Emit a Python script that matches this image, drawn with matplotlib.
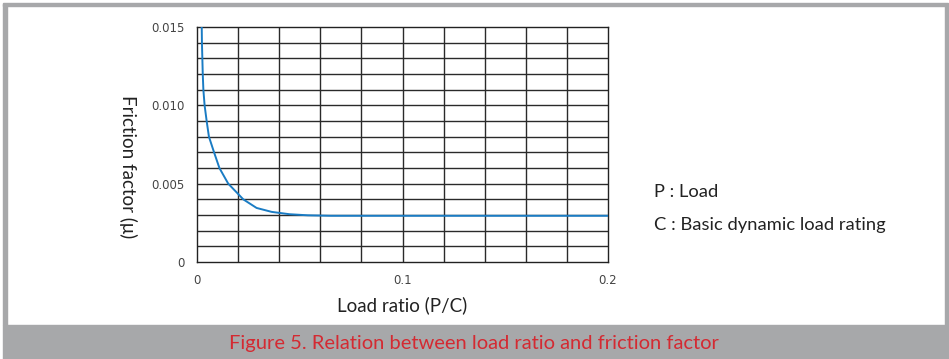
import matplotlib
matplotlib.use('Agg')
from matplotlib import pyplot as plt
from matplotlib.patches import Rectangle
import numpy as np

# curve: load ratio (P/C) vs friction factor
load_ratio = [0.0023, 0.0024, 0.0026, 0.0028, 0.0031, 0.0037, 0.0047, 0.0058,
              0.0083, 0.0109, 0.0152, 0.0196, 0.0225, 0.029, 0.0363, 0.045,
              0.054, 0.065, 0.100, 0.150, 0.200]
friction = [0.0150, 0.0140, 0.0130, 0.0120, 0.0110, 0.0100, 0.0090, 0.0080,
            0.0070, 0.0060, 0.0050, 0.0044, 0.0040, 0.00345, 0.0032, 0.00305,
            0.00298, 0.00295, 0.00295, 0.00295, 0.00295]

x_ticks = [0, 0.1, 0.2]
x_ticklabels = ['0', '0.1', '0.2']
y_ticks = [0, 0.005, 0.010, 0.015]
y_ticklabels = ['0', '0.005', '0.010', '0.015']

W, H = 949, 359
fig = plt.figure(figsize=(W / 100, H / 100), dpi=100)
fig.patch.set_facecolor('white')

frame_col = '#a7a8aa'


def px_rect(x0, y0, x1, y1, color):
    # rectangle in pixel coords (origin top-left)
    fig.patches.append(Rectangle((x0 / W, 1 - y1 / H), (x1 - x0) / W, (y1 - y0) / H,
                                 transform=fig.transFigure, color=color, zorder=0))


px_rect(3, 3.5, 948, 6, frame_col)      # top line
px_rect(3, 3.5, 6.5, 325, frame_col)    # left line
px_rect(945, 3.5, 948, 325, frame_col)  # right line
px_rect(3, 325, 949, 359, frame_col)    # caption band

ax = fig.add_axes([197 / W, 1 - 262 / H, (608 - 197) / W, (262 - 27) / H])

# grid: every 0.02 across, every 0.001 up
for gx in np.arange(0.02, 0.19, 0.02):
    ax.axvline(gx, color='#2a2a2a', lw=1.0, zorder=1)
for gy in np.arange(0.001, 0.0145, 0.001):
    ax.axhline(gy, color='#2a2a2a', lw=1.0, zorder=1)

ax.plot(load_ratio, friction, color='#1a7cc4', lw=1.4, zorder=3,
        solid_joinstyle='round')

ax.set_xlim(0, 0.2)
ax.set_ylim(0, 0.015)
ax.set_xticks(x_ticks)
ax.set_xticklabels(x_ticklabels)
ax.set_yticks(y_ticks)
ax.set_yticklabels(y_ticklabels)
ax.tick_params(which='both', length=0)
ax.tick_params(axis='x', pad=9, labelsize=8.5, labelcolor='#444444')
ax.tick_params(axis='y', pad=9, labelsize=8.5, labelcolor='#444444')
for s in ax.spines.values():
    s.set_color('#222222')
    s.set_linewidth(1.0)

txt_font = 'Lato'
ax.set_xlabel('Load ratio (P/C)', fontsize=13.5, family=txt_font, color='#222222', labelpad=6)
fig.text(128 / W, 1 - 167 / H, 'Friction factor (μ)', rotation=270, fontsize=13.5,
         family=txt_font, color='#222222', ha='center', va='center')

fig.text(654 / W, 1 - 192 / H, 'P : Load', fontsize=13.2, family=txt_font,
         color='#222222', ha='left', va='center')
fig.text(654 / W, 1 - 225 / H, 'C : Basic dynamic load rating', fontsize=13.2,
         family=txt_font, color='#222222', ha='left', va='center')

fig.text(474 / W, 1 - 344 / H, 'Figure 5. Relation between load ratio and friction factor',
         fontsize=14.5, family=txt_font, color='#d42a32', ha='center', va='center')

plt.savefig('out.png', dpi=100)
